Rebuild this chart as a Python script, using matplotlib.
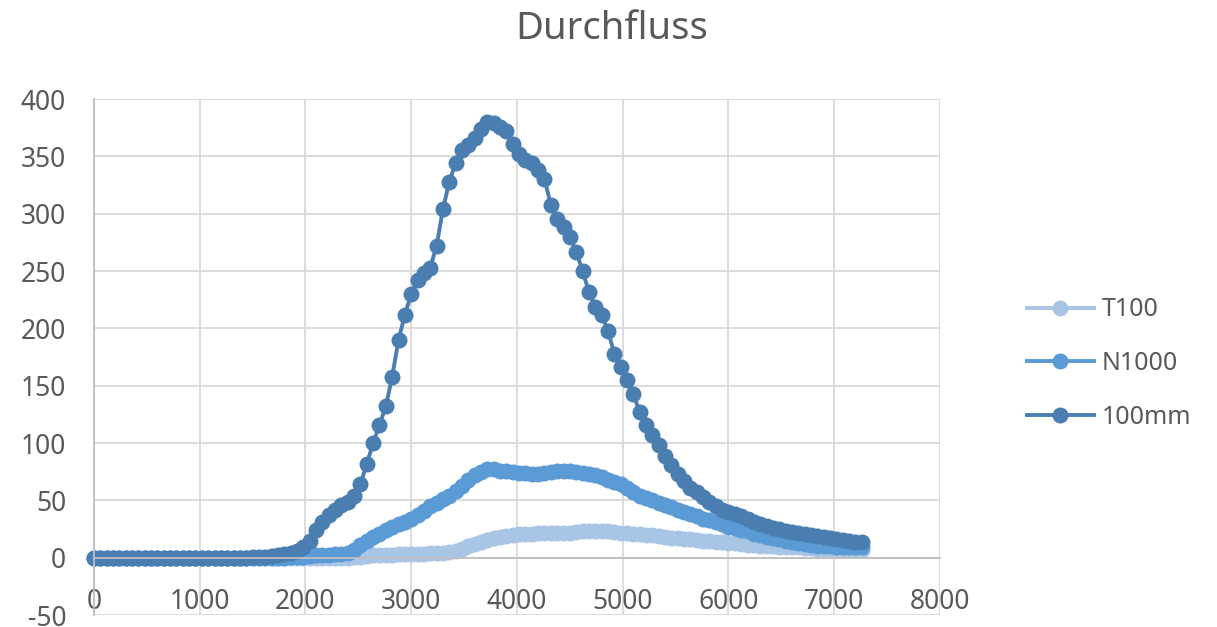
import numpy as np
import matplotlib
matplotlib.use("Agg")
import matplotlib.pyplot as plt

# sampling time (s), one reading every 60 s
zeit = np.arange(0, 7261, 60)

t100 = [0] * 41 + [
    0.5, 1, 1.5, 2, 2, 2.5, 2.5, 3, 3, 3,
    3.5, 3.5, 4, 4, 4.5, 5, 6, 8, 10, 12,
    14, 15.5, 17, 18, 19, 20, 20.5, 21, 21, 21.5,
    22, 22, 22, 22, 22, 22.5, 23, 23.5, 23.5, 23,
    23, 22.5, 22, 21.5, 21, 20.5, 20, 19.5, 19, 18,
    17.5, 17, 16.5, 16, 15.5, 15, 14.5, 14, 13.5, 13,
    12.5, 12, 11.5, 11, 10.5, 10, 10, 9.5, 9.5, 9,
    9, 8.5, 8.5, 8, 8, 8, 7.5, 7.5, 7, 7, 7]

n1000 = [0] * 31 + [
    0.5, 1, 1, 1.5, 2, 2, 2.5, 3, 3.5, 4,
    7, 11, 15, 18, 21, 24, 27, 29, 31, 34,
    37, 41, 45, 48, 51, 54, 58, 63, 68, 72,
    75, 77, 77, 76, 76, 75, 74, 74, 73, 73,
    74, 75, 76, 76, 76, 75, 74, 73, 72, 70,
    68, 66, 64, 61, 57, 54, 52, 50, 48, 46,
    44, 42, 40, 38, 36, 34, 33, 31, 29, 27,
    26, 24, 23, 21, 20, 18, 17, 16, 15, 14,
    13, 12, 11, 10.5, 10, 10, 9.5, 9.5, 9, 9, 9]

mm100 = [0] * 25 + [
    0.5, 0.5, 1, 1.5, 2, 3, 4, 6, 9, 15,
    24, 31, 37, 42, 46, 49, 54, 64, 82, 100,
    116, 132, 158, 190, 212, 230, 242, 248, 253, 272,
    304, 328, 344, 356, 360, 366, 374, 380, 379, 376,
    372, 361, 352, 347, 344, 338, 330, 308, 295, 288,
    280, 267, 250, 232, 219, 212, 198, 178, 166, 155,
    143, 127, 116, 107, 98, 89, 81, 73, 67, 61,
    57, 53, 49, 45, 42, 40, 38, 36, 34, 31,
    29, 27.5, 26, 25, 23.5, 22.5, 22, 21, 20, 19,
    18, 17, 16.5, 15.5, 14.5, 14, 13.5]

series = [("T100", t100, "#A9C5E6"),
          ("N1000", n1000, "#5B9BD5"),
          ("100mm", mm100, "#4A7EB1")]

plt.rcParams['font.family'] = ['Noto Sans', 'DejaVu Sans']
plt.rcParams['axes.unicode_minus'] = False
textcolor = "#595959"

fig = plt.figure(figsize=(12.17, 6.27), dpi=100)
ax = fig.add_axes([0.0772, 0.019, 0.6952, 0.823])

for name, vals, col in series:
    ax.plot(zeit, vals, "-o", color=col, lw=2.8, markersize=11.5,
            markeredgewidth=0, label=name, clip_on=False)

ax.set_xlim(0, 8000)
ax.set_ylim(-50, 400)
ax.set_xticks(range(0, 8001, 1000))
ax.set_yticks(range(-50, 401, 50))
ax.grid(True, color="#D9D9D9", lw=1.3)
ax.set_axisbelow(True)

for s in ["top", "right"]:
    ax.spines[s].set_visible(False)
ax.spines["bottom"].set_position(("data", 0))
ax.spines["bottom"].set_color("#BFBFBF")
ax.spines["left"].set_color("#BFBFBF")
ax.spines["bottom"].set_linewidth(1.3)
ax.spines["left"].set_linewidth(1.3)
ax.tick_params(axis="x", length=0, pad=22, labelsize=19, labelcolor=textcolor)
ax.tick_params(axis="y", length=0, pad=20, labelsize=19, labelcolor=textcolor)

fig.text(0.503, 0.953, "Durchfluss", ha="center", va="center",
         fontsize=27.5, color=textcolor)

leg = ax.legend(loc="center left", bbox_to_anchor=(0.825, 0.42),
                bbox_transform=fig.transFigure, frameon=False,
                fontsize=18, handlelength=2.7, handletextpad=0.3,
                labelspacing=1.15)
for t in leg.get_texts():
    t.set_color(textcolor)

fig.savefig("out.png", dpi=100)
